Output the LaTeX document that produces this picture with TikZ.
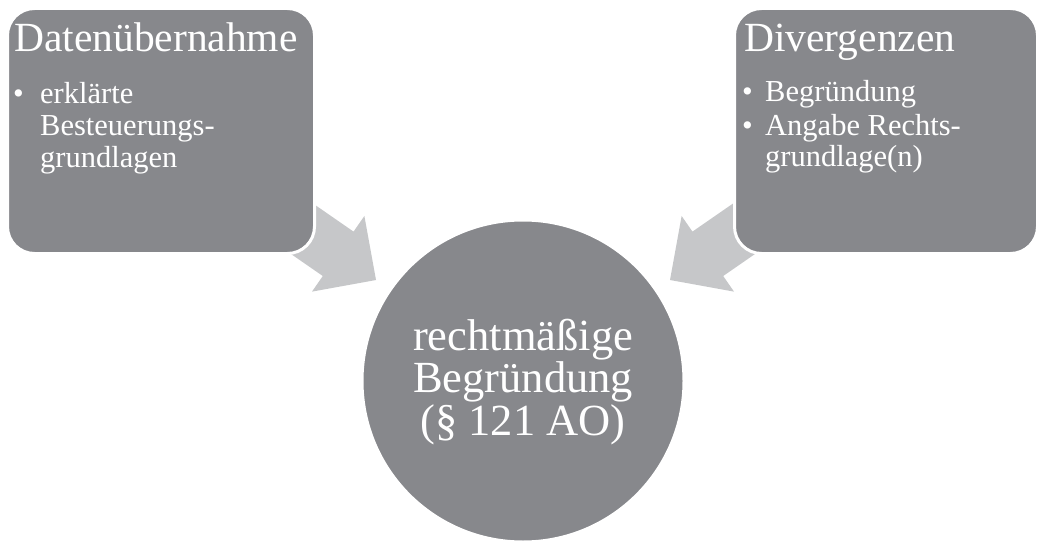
\documentclass[tikz,border=0pt]{standalone}
\usepackage{fontspec}
\setmainfont{Liberation Serif}
\definecolor{boxgray}{RGB}{135,136,140}
\definecolor{arrowgray}{RGB}{198,199,201}
\tikzset{
  panel/.style={fill=boxgray, draw=white, line width=3pt, rounded corners=27pt,
    anchor=north west, inner sep=0pt, minimum width=307pt, minimum height=245pt},
  goal/.style={circle, fill=boxgray, draw=white, line width=3pt, inner sep=0pt,
    minimum size=322pt},
  title/.style={anchor=base west, inner sep=0pt, text=white,
    font=\fontsize{41.5}{44}\selectfont},
  body/.style={anchor=base west, inner sep=0pt, text=white,
    font=\fontsize{30.5}{32}\selectfont},
  centertext/.style={anchor=base, inner sep=0pt, text=white,
    font=\fontsize{44.5}{39}\selectfont},
  pics/convarrow/.style={code={
    \fill[arrowgray] (0,0) -- (-46,-46) -- (-46,-27) -- (-130,-27)
      -- (-130,27) -- (-46,27) -- (-46,46) -- cycle;}}
}
\begin{document}
\begin{tikzpicture}[x=1pt, y=-1pt]
  \useasboundingbox (0,0) rectangle (1039,543);
  \fill[white] (0,0) rectangle (1039,543);

  % converging block arrows (tips in front of the circle)
  \coordinate (tipL) at (376,280);
  \coordinate (tipR) at (670,280);
  \pic[rotate=-34.7] at (tipL) {convarrow};
  \pic[rotate=214.7] at (tipR) {convarrow};

  % source panels
  \node[panel] (boxL) at (6,7) {};
  \node[panel, minimum width=303pt] (boxR) at (733,7) {};

  % left panel text
  \node[title] (titleL) at (14,52) {Datenübernahme};
  \node[body] (bulL) at (13,103) {•};
  \node[body] (txtL) at (40,103) {\begin{tabular}[t]{@{}l@{}}erklärte\\Besteuerungs-\\grundlagen\end{tabular}};

  % right panel text
  \node[title] (titleR) at (744,52) {Divergenzen};
  \node[body] (bulR1) at (742,101) {•};
  \node[body] (txtR1) at (765,101) {Begründung};
  \node[body] (bulR2) at (742,135) {•};
  \node[body] (txtR2) at (765,135) {\begin{tabular}[t]{@{}l@{}}Angabe Rechts-\\grundlage(n)\end{tabular}};

  % target circle
  \node[goal] (circ) at (523,381) {};
  \node[centertext] (circtxt) at (523,350) {\begin{tabular}[t]{@{}c@{}}rechtmäßige\\Begründung\\(§ 121 AO)\end{tabular}};
\end{tikzpicture}
\end{document}
